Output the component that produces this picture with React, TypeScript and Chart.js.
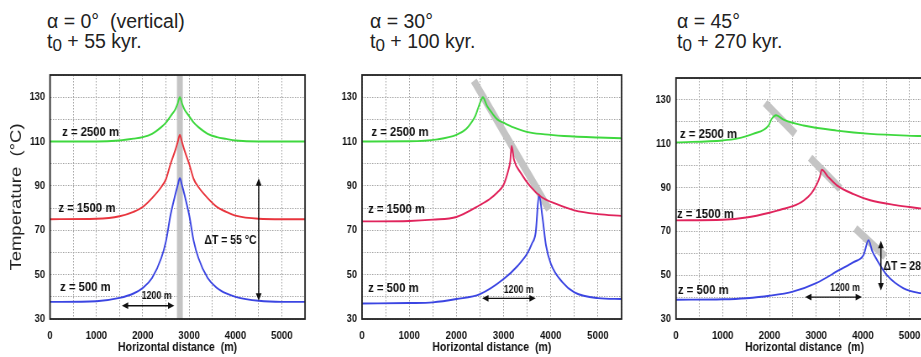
import React, { useEffect, useRef } from 'react';
import { Chart, registerables } from 'chart.js';
Chart.register(...registerables);

// ---------- shared axis values ----------
const X_TICK_LABELS = [0, 1000, 2000, 3000, 4000, 5000];
const Y_TICK_LABELS = [30, 50, 70, 90, 110, 130];
const X_GRID = [0, 500, 1000, 1500, 2000, 2500, 3000, 3500, 4000, 4500, 5000, 5500];
const Y_GRID = [30, 40, 50, 60, 70, 80, 90, 100, 110, 120, 130, 140];
const DEPTH_LABELS = ['z = 2500 m', 'z = 1500 m', 'z = 500 m'];

// ---------- panel A : alpha = 0 (vertical), t0 + 55 kyr ----------
const A_X = [0, 1000, 1500, 1800, 2000, 2200, 2400, 2500, 2600, 2700, 2750, 2800, 2850, 2900, 3000, 3100, 3200, 3400, 3600, 3800, 4000, 4500, 5000, 5500];
const A_Z2500 = [110, 110, 110.5, 111.3, 112, 113.5, 116.5, 118.5, 121.5, 124.5, 127, 130, 127, 124.5, 121.5, 118.5, 116.5, 113.5, 112, 111.2, 110.5, 110, 110, 110];
const A_Z1500 = [75, 75.2, 76.3, 78.3, 80.5, 84.5, 89.5, 93, 100, 106, 109.5, 113, 109.5, 106, 100, 93, 89.5, 84.5, 80.5, 78.3, 76.6, 75.2, 75, 75];
const A_Z500 = [37.7, 38, 39.5, 41.5, 44, 48.5, 57.5, 65, 77, 86, 90, 93.5, 90, 86, 77, 65, 57.5, 48.5, 44, 41.5, 40, 38.2, 37.7, 37.7];
const A_FAULT_X = [2800, 2800];
const A_FAULT_Y = [30, 140];
const A_LABEL_X = [260, 180, 215];
const A_LABEL_Y = [114, 80, 44.5];
const A_SPAN = { x1: 1550, x2: 2680, y: 36, text: '1200 m', tx: 2300, ty: 40.3 };
const A_DELTA = { x: 4500, y1: 38.2, y2: 93.5, text: 'ΔT = 55 °C', tx: 4455, ty: 65.5, align: 'right' };

// ---------- panel B : alpha = 30, t0 + 100 kyr ----------
const B_Z2500_X = [0, 1000, 1600, 2000, 2200, 2330, 2400, 2475, 2530, 2560, 2650, 2750, 2865, 3000, 3210, 3570, 4000, 4280, 5000, 5500];
const B_Z2500_Y = [110, 110.1, 111, 113, 115.5, 119, 121.5, 126, 129, 130, 126, 123, 120, 118.5, 116.4, 114, 113, 112.5, 111.8, 111.5];
const B_Z1500_X = [0, 1000, 1500, 2000, 2500, 2700, 2866, 3000, 3100, 3140, 3170, 3220, 3360, 3570, 3800, 4100, 4500, 5000, 5500];
const B_Z1500_Y = [74, 74.2, 74.8, 76, 81.4, 84, 87, 90.5, 97, 101, 108, 101.8, 96, 89.7, 85, 82, 79, 77.3, 76.5];
const B_Z500_X = [0, 1000, 1500, 2000, 2500, 3000, 3300, 3500, 3600, 3680, 3750, 3823, 3900, 4000, 4250, 4500, 5000, 5500];
const B_Z500_Y = [37, 37.2, 37.5, 39, 41.2, 48, 54, 59.5, 64, 69, 86, 76, 63, 55, 46.5, 42, 39.4, 39];
const B_FAULT_X = [2368, 3964];
const B_FAULT_Y = [137.4, 79.4];
const B_LABEL_X = [200, 128, 128];
const B_LABEL_Y = [114, 79.5, 43.8];
const B_SPAN = { x1: 2546, x2: 3680, y: 39.3, text: '1200 m', tx: 3320, ty: 43 };

// ---------- panel C : alpha = 45, t0 + 270 kyr ----------
const C_Z2500_X = [0, 1000, 1300, 1650, 1979, 2050, 2143, 2300, 2730, 3440, 4157, 5230, 5500];
const C_Z2500_Y = [110.6, 111.5, 112.3, 114.5, 118.3, 121.4, 123, 121, 118.3, 116, 114.5, 113.5, 113.3];
const C_Z1500_X = [0, 1000, 1500, 2000, 2250, 2500, 2728, 2900, 3014, 3080, 3120, 3250, 3443, 3800, 4157, 4700, 5229, 5500];
const C_Z1500_Y = [75, 75.3, 76.3, 78.5, 80, 81.5, 84, 87.5, 91.5, 95, 98.2, 95, 91, 87, 84.2, 82, 80.5, 79.7];
const C_Z500_X = [0, 1000, 1500, 2000, 2500, 3000, 3500, 3800, 4014, 4121, 4200, 4300, 4514, 4871, 5229, 5500];
const C_Z500_Y = [38.8, 39, 39.5, 40.6, 42.5, 46.4, 52.4, 56, 59.2, 66, 61, 57, 50, 44, 41.8, 41.3];
const C_FAULT_X = [[1907, 2550], [2871, 3514], [3836, 4479]];
const C_FAULT_Y = [[128.6, 114.5], [103.6, 89.5], [71.4, 58.5]];
const C_LABEL_X = [85, 20, 40];
const C_LABEL_Y = [114.5, 78, 43];
const C_SPAN = { x1: 2764, x2: 3979, y: 40, text: '1200 m', tx: 3620, ty: 44 };
const C_DELTA = { x: 4386, y1: 43, y2: 65.7, text: 'ΔT = 28 °C', tx: 4440, ty: 54, align: 'left' };

// ---------- styles ----------
const K = 0.84; // horizontal squeeze of the plot panels
const GREEN = '#3fd83f';
const RED_A = '#e8353d';
const RED_BC = '#e0245c';
const BLUE = '#3b45e2';
const FAULT = '#c4c4c4';
const SANS = '"Liberation Sans", Arial, Helvetica, sans-serif';

const pts = (xs: number[], ys: number[]) => xs.map((x, i) => ({ x, y: ys[i] }));

function curve(data: any, color: string) {
  return { data, borderColor: color, borderWidth: 1.9, pointRadius: 0, cubicInterpolationMode: 'monotone', order: 1, fill: false };
}
function fault(data: any, width: number) {
  return { data, borderColor: FAULT, borderWidth: width, pointRadius: 0, tension: 0, order: 10, borderCapStyle: 'butt', fill: false };
}

function head(ctx: CanvasRenderingContext2D, x: number, y: number, ang: number) {
  const L = 7.5, W = 3.4;
  ctx.save();
  ctx.translate(x, y);
  ctx.rotate(ang);
  ctx.beginPath();
  ctx.moveTo(0, 0);
  ctx.lineTo(-L, -W);
  ctx.lineTo(-L, W);
  ctx.closePath();
  ctx.fill();
  ctx.restore();
}

const annotPlugin = {
  id: 'annot',
  afterDatasetsDraw(chart: any, _args: any, opts: any) {
    const { ctx, scales } = chart;
    const xs = scales.x, ys = scales.y;
    ctx.save();
    ctx.fillStyle = '#111';
    ctx.strokeStyle = '#111';
    ctx.textBaseline = 'middle';
    ctx.font = `bold 13.5px ${SANS}`;
    ctx.textAlign = 'left';
    (opts.labels || []).forEach((l: any) => {
      ctx.fillText(l.text, xs.getPixelForValue(l.x), ys.getPixelForValue(l.y));
    });
    if (opts.span) {
      const s = opts.span;
      const x1 = xs.getPixelForValue(s.x1), x2 = xs.getPixelForValue(s.x2), y = ys.getPixelForValue(s.y);
      ctx.lineWidth = 1.4;
      ctx.beginPath();
      ctx.moveTo(x1 + 4, y);
      ctx.lineTo(x2 - 4, y);
      ctx.stroke();
      head(ctx, x1, y, Math.PI);
      head(ctx, x2, y, 0);
      ctx.font = `bold 10.5px ${SANS}`;
      ctx.textAlign = 'center';
      ctx.fillText(s.text, xs.getPixelForValue(s.tx), ys.getPixelForValue(s.ty));
    }
    if (opts.delta) {
      const d = opts.delta;
      const x = xs.getPixelForValue(d.x), y1 = ys.getPixelForValue(d.y1), y2 = ys.getPixelForValue(d.y2);
      ctx.lineWidth = 1.5;
      ctx.beginPath();
      ctx.moveTo(x, y1 - 4);
      ctx.lineTo(x, y2 + 4);
      ctx.stroke();
      head(ctx, x, y1, Math.PI / 2);
      head(ctx, x, y2, -Math.PI / 2);
      ctx.font = `bold 12.5px ${SANS}`;
      ctx.textAlign = d.align;
      ctx.fillText(d.text, xs.getPixelForValue(d.tx), ys.getPixelForValue(d.ty));
    }
    ctx.restore();
  },
  afterDraw(chart: any) {
    const { ctx, chartArea: a } = chart;
    ctx.save();
    ctx.strokeStyle = '#222';
    ctx.lineWidth = 1.8;
    ctx.strokeRect(a.left, a.top, a.right - a.left, a.bottom - a.top);
    ctx.restore();
  },
};

function makeOptions(p: any) {
  const yWidth = (p.plotLeft - p.left) / K;
  const padRight = (p.left + p.width - p.plotRight) / K;
  return {
    responsive: false,
    maintainAspectRatio: false,
    animation: false,
    events: [],
    layout: { padding: { top: p.plotTop - p.top, right: padRight, left: 0, bottom: 0 } },
    plugins: {
      legend: { display: false },
      tooltip: { enabled: false },
      annot: { labels: p.labels, span: p.span, delta: p.delta },
    },
    scales: {
      x: {
        type: 'linear',
        min: 0,
        max: 5500,
        afterBuildTicks: (s: any) => { s.ticks = X_GRID.map((v) => ({ value: v })); },
        afterFit: (s: any) => { s.height = p.top + p.height - p.plotBottom; },
        ticks: {
          autoSkip: false,
          maxRotation: 0,
          padding: 10,
          color: '#111',
          font: { family: SANS, size: 11.5, weight: 'bold' },
          callback: (v: number) => (X_TICK_LABELS.includes(v) ? String(v) : ''),
        },
        grid: { color: '#a4a4a4', lineWidth: 1, drawTicks: false },
        border: { display: false, dash: [1.5, 1.5] },
        title: {
          display: true,
          text: 'Horizontal distance  (m)',
          color: '#111',
          font: { family: SANS, size: 12.5, weight: 'bold' },
          padding: { top: 0, bottom: 2 },
        },
      },
      y: {
        type: 'linear',
        min: 30,
        max: 140,
        afterBuildTicks: (s: any) => { s.ticks = Y_GRID.map((v) => ({ value: v })); },
        afterFit: (s: any) => { s.width = yWidth; },
        ticks: {
          autoSkip: false,
          padding: 6,
          color: '#111',
          font: { family: SANS, size: 11, weight: 'bold' },
          callback: (v: number) => (Y_TICK_LABELS.includes(v) ? String(v) : ''),
        },
        grid: { color: '#a4a4a4', lineWidth: 1, drawTicks: false },
        border: { display: false, dash: [1.5, 1.5] },
        title: {
          display: !!p.yTitle,
          text: p.yTitle || '',
          color: '#222',
          font: { family: SANS, size: 18.5, weight: 'normal' },
          padding: { top: 9, bottom: 0 },
        },
      },
    },
  };
}

const PANELS = [
  {
    key: 'A', left: 0, top: 60, width: 320, height: 297,
    plotLeft: 50, plotRight: 305, plotTop: 75, plotBottom: 319,
    yTitle: 'Temperature  (°C)',
    title1: 'α = 0°  (vertical)', title2: '55 kyr.', titleLeft: 47,
    datasets: [
      fault(pts(A_FAULT_X, A_FAULT_Y), 7),
      curve(pts(A_X, A_Z2500), GREEN),
      curve(pts(A_X, A_Z1500), RED_A),
      curve(pts(A_X, A_Z500), BLUE),
    ],
    labels: DEPTH_LABELS.map((t, i) => ({ text: t, x: A_LABEL_X[i], y: A_LABEL_Y[i] })),
    span: A_SPAN, delta: A_DELTA,
  },
  {
    key: 'B', left: 320, top: 60, width: 310, height: 297,
    plotLeft: 362, plotRight: 622, plotTop: 75, plotBottom: 319,
    yTitle: '',
    title1: 'α = 30°', title2: '100 kyr.', titleLeft: 370,
    datasets: [
      fault(pts(B_FAULT_X, B_FAULT_Y), 8),
      curve(pts(B_Z2500_X, B_Z2500_Y), GREEN),
      curve(pts(B_Z1500_X, B_Z1500_Y), RED_BC),
      curve(pts(B_Z500_X, B_Z500_Y), BLUE),
    ],
    labels: DEPTH_LABELS.map((t, i) => ({ text: t, x: B_LABEL_X[i], y: B_LABEL_Y[i] })),
    span: B_SPAN, delta: null,
  },
  {
    key: 'C', left: 635, top: 60, width: 310, height: 297,
    plotLeft: 676, plotRight: 933, plotTop: 78, plotBottom: 319,
    yTitle: '',
    title1: 'α = 45°', title2: '270 kyr.', titleLeft: 677,
    datasets: [
      fault(pts(C_FAULT_X[0], C_FAULT_Y[0]), 8),
      fault(pts(C_FAULT_X[1], C_FAULT_Y[1]), 8),
      fault(pts(C_FAULT_X[2], C_FAULT_Y[2]), 8),
      curve(pts(C_Z2500_X, C_Z2500_Y), GREEN),
      curve(pts(C_Z1500_X, C_Z1500_Y), RED_BC),
      curve(pts(C_Z500_X, C_Z500_Y), BLUE),
    ],
    labels: DEPTH_LABELS.map((t, i) => ({ text: t, x: C_LABEL_X[i], y: C_LABEL_Y[i] })),
    span: C_SPAN, delta: C_DELTA,
  },
];

function Panel({ p }: { p: any }) {
  const ref = useRef<HTMLCanvasElement>(null);
  const w = Math.round(p.width / K);
  useEffect(() => {
    if (!ref.current) return;
    const chart = new Chart(ref.current, {
      type: 'line',
      data: { datasets: p.datasets },
      options: makeOptions(p) as any,
      plugins: [annotPlugin as any],
    });
    return () => chart.destroy();
  }, []);
  return (
    <div
      style={{
        position: 'absolute', left: p.left, top: p.top, width: w, height: p.height,
        transform: `scaleX(${K})`, transformOrigin: '0 0',
      }}
    >
      <canvas ref={ref} width={w} height={p.height} style={{ display: 'block' }} />
    </div>
  );
}

const titleStyle: React.CSSProperties = {
  position: 'absolute',
  top: 11,
  fontFamily: SANS,
  fontSize: 19.5,
  lineHeight: '20px',
  color: '#222',
  whiteSpace: 'pre',
};

export default function App() {
  return (
    <div style={{ position: 'fixed', left: 0, top: 0, width: 921, height: 357, overflow: 'hidden', background: '#fff' }}>
      {PANELS.map((p) => (
        <div key={'t' + p.key} style={{ ...titleStyle, left: p.titleLeft }}>
          <div>{p.title1}</div>
          <div>
            t<span style={{ fontSize: 17, position: 'relative', top: 3 }}>0</span> + {p.title2}
          </div>
        </div>
      ))}
      {PANELS.map((p) => (
        <Panel key={p.key} p={p} />
      ))}
    </div>
  );
}
